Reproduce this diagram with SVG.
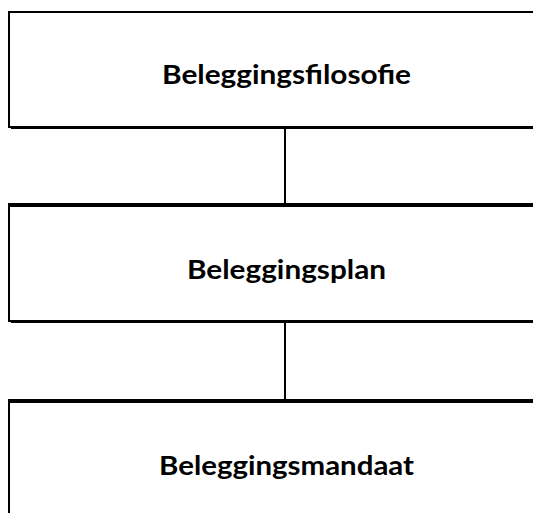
<svg xmlns="http://www.w3.org/2000/svg" width="533" height="513" viewBox="0 0 533 513">
<style>
.shadow{fill:#000}
.box{fill:#fff;stroke:#000;stroke-width:2}
.lbl{font-family:Lato,"Liberation Sans",sans-serif;font-weight:bold;font-size:27px;fill:#000;text-anchor:middle}
.conn{stroke:#000;stroke-width:2;fill:none}
</style>
<rect width="533" height="513" fill="#fff"/>
<g id="connectors">
<line class="conn" x1="285" y1="129" x2="285" y2="204"/>
<line class="conn" x1="285" y1="323" x2="285" y2="400"/>
</g>
<g id="node1">
<rect class="shadow" x="11" y="14" width="557" height="115"/>
<rect class="box" x="9" y="12" width="557" height="115"/>
<text class="lbl" x="286.5" y="84" textLength="249" lengthAdjust="spacingAndGlyphs">Beleggingsfilosofie</text>
</g>
<g id="node2">
<rect class="shadow" x="11" y="208" width="557" height="115"/>
<rect class="box" x="9" y="206" width="557" height="115"/>
<line class="conn" x1="8" y1="204" x2="566" y2="204"/>
<text class="lbl" x="286.5" y="279" textLength="199" lengthAdjust="spacingAndGlyphs">Beleggingsplan</text>
</g>
<g id="node3">
<rect class="shadow" x="11" y="404" width="557" height="130"/>
<rect class="box" x="9" y="402" width="557" height="130"/>
<line class="conn" x1="8" y1="400" x2="566" y2="400"/>
<text class="lbl" x="286.5" y="475" textLength="255" lengthAdjust="spacingAndGlyphs">Beleggingsmandaat</text>
</g>
</svg>
